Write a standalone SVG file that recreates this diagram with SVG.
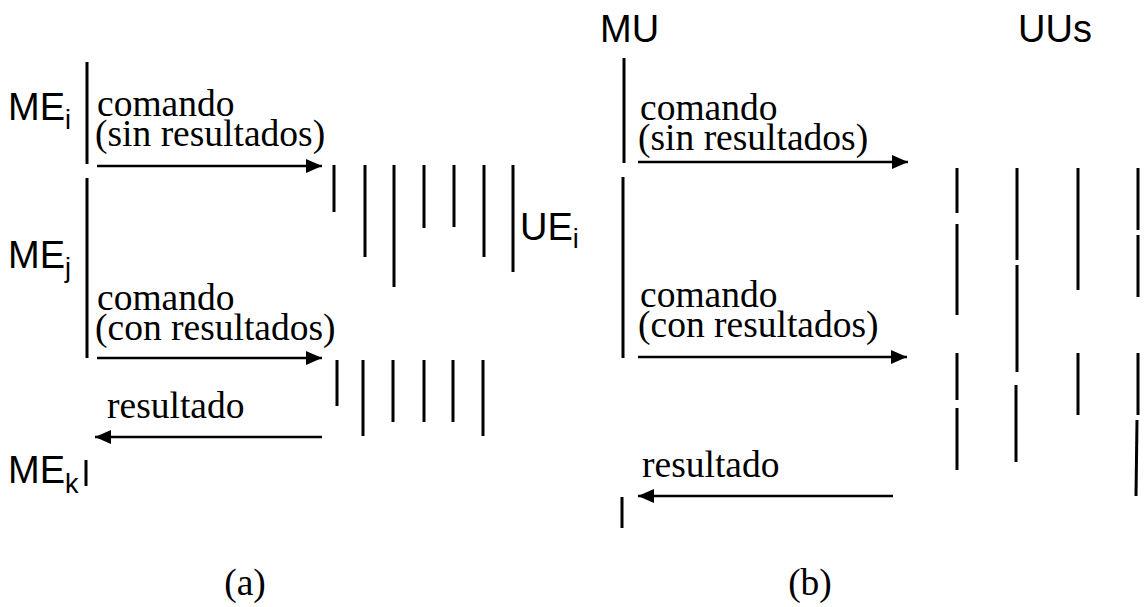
<svg xmlns="http://www.w3.org/2000/svg" width="1144" height="607" viewBox="0 0 1144 607">
<style>
.ln{stroke:#000;stroke-width:3;fill:none}
.ar{stroke:#000;stroke-width:2.5;fill:none;marker-end:url(#ah)}
.sf{font-family:"Liberation Serif","Times New Roman",serif;font-size:37.5px;fill:#000}
.ss{font-family:"Liberation Sans",Arial,sans-serif;font-size:38px;fill:#000}
.sub{font-family:"Liberation Sans",Arial,sans-serif;font-size:27px;fill:#000}
</style>
<defs>
<marker id="ah" markerUnits="userSpaceOnUse" markerWidth="18" markerHeight="14" refX="16" refY="7" orient="auto">
<path d="M0,0 L16,7 L0,14 Z" fill="#000"/>
</marker>
</defs>
<rect width="1144" height="607" fill="#fff"/>
<g id="ME_i">
<text class="ss" x="8" y="120">ME<tspan class="sub" dy="9">i</tspan></text>
<line class="ln" x1="87" y1="62" x2="87" y2="164"/>
</g>
<g id="ME_j">
<text class="ss" x="8" y="268">ME<tspan class="sub" dy="9">j</tspan></text>
<line class="ln" x1="87" y1="178" x2="87" y2="358"/>
</g>
<g id="ME_k">
<text class="ss" x="8" y="483">ME<tspan class="sub" dy="10">k</tspan></text>
<line class="ln" x1="86" y1="460" x2="86" y2="486"/>
</g>
<g id="UE_i">
<line class="ln" x1="334" y1="165" x2="334" y2="212"/>
<line class="ln" x1="365" y1="165" x2="365" y2="257"/>
<line class="ln" x1="394" y1="165" x2="394" y2="287"/>
<line class="ln" x1="424" y1="165" x2="424" y2="228"/>
<line class="ln" x1="454" y1="165" x2="454" y2="227"/>
<line class="ln" x1="484" y1="165" x2="484" y2="257"/>
<line class="ln" x1="513" y1="165" x2="513" y2="272"/>
<text class="ss" x="520" y="240">UE<tspan class="sub" dy="8">i</tspan></text>
</g>
<g id="UE_group2">
<line class="ln" x1="337" y1="360" x2="337" y2="406"/>
<line class="ln" x1="363" y1="360" x2="363" y2="436"/>
<line class="ln" x1="393" y1="360" x2="393" y2="422"/>
<line class="ln" x1="424" y1="360" x2="424" y2="422"/>
<line class="ln" x1="453" y1="360" x2="453" y2="422"/>
<line class="ln" x1="483" y1="360" x2="483" y2="436"/>
</g>
<g id="MU">
<text class="ss" x="600" y="42">MU</text>
<line class="ln" x1="624" y1="58" x2="624" y2="163"/>
<line class="ln" x1="623" y1="177" x2="623" y2="358"/>
<line class="ln" x1="622" y1="497" x2="622" y2="528"/>
</g>
<g id="UUs">
<text class="ss" x="1018" y="42">UUs</text>
<line class="ln" x1="957" y1="168" x2="957" y2="213"/>
<line class="ln" x1="957" y1="224" x2="957" y2="315"/>
<line class="ln" x1="957" y1="353" x2="957" y2="400"/>
<line class="ln" x1="957" y1="408" x2="957" y2="470"/>
<line class="ln" x1="1017" y1="168" x2="1017" y2="260"/>
<line class="ln" x1="1017" y1="265" x2="1017" y2="372"/>
<line class="ln" x1="1016" y1="385" x2="1016" y2="462"/>
<line class="ln" x1="1078" y1="168" x2="1078" y2="290"/>
<line class="ln" x1="1078" y1="353" x2="1078" y2="415"/>
<line class="ln" x1="1138" y1="168" x2="1138" y2="230"/>
<line class="ln" x1="1138" y1="235" x2="1138" y2="297"/>
<line class="ln" x1="1138" y1="353" x2="1138" y2="415"/>
<line class="ln" x1="1137" y1="420" x2="1136" y2="496"/>
</g>
<g id="connectors">
<line class="ar" x1="97" y1="166" x2="322" y2="166"/>
<line class="ar" x1="97" y1="358" x2="322" y2="358"/>
<line class="ar" x1="322" y1="437" x2="95" y2="437"/>
<line class="ar" x1="638" y1="162" x2="908" y2="162"/>
<line class="ar" x1="638" y1="357" x2="907" y2="357"/>
<line class="ar" x1="893" y1="496" x2="638" y2="496"/>
</g>
<g id="labels">
<text class="sf" x="97" y="116">comando<tspan x="95" dy="30">(sin resultados)</tspan></text>
<text class="sf" x="97" y="310">comando<tspan x="95" dy="30">(con resultados)</tspan></text>
<text class="sf" x="107" y="418">resultado</text>
<text class="sf" x="640" y="120">comando<tspan x="638" dy="30">(sin resultados)</tspan></text>
<text class="sf" x="640" y="307">comando<tspan x="638" dy="30">(con resultados)</tspan></text>
<text class="sf" x="642" y="477">resultado</text>
<text class="sf" x="245" y="595" text-anchor="middle">(a)</text>
<text class="sf" x="810" y="595" text-anchor="middle">(b)</text>
</g>
</svg>
